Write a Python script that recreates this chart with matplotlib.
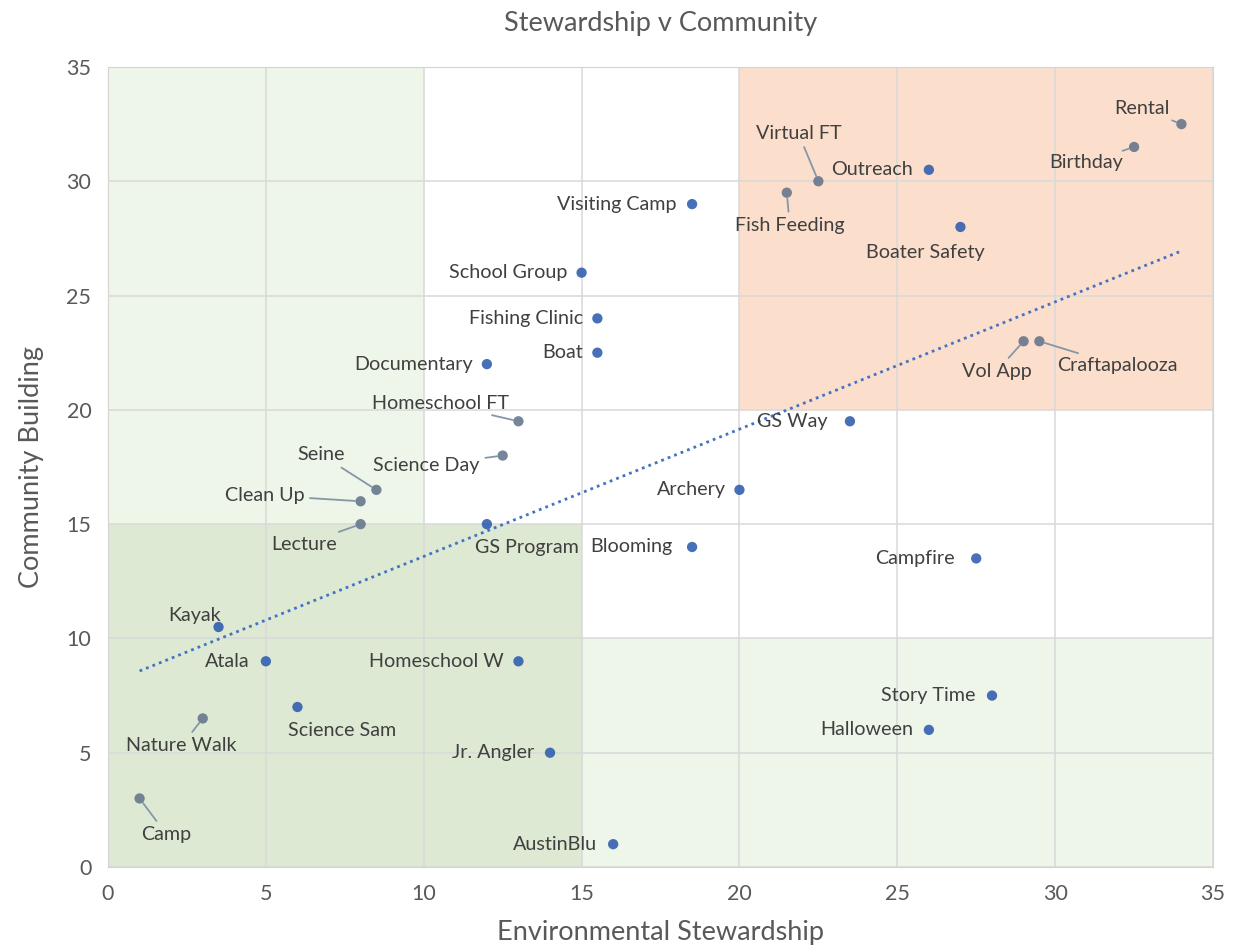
import numpy as np
import matplotlib.pyplot as plt
from matplotlib.patches import Rectangle

# activity scores
names = ['Rental', 'Birthday', 'Outreach', 'Virtual FT', 'Fish Feeding', 'Boater Safety',
         'Vol App', 'Craftapalooza', 'Visiting Camp', 'School Group', 'Fishing Clinic',
         'Boat', 'Documentary', 'Homeschool FT', 'GS Way', 'Science Day', 'Seine',
         'Clean Up', 'Archery', 'Lecture', 'GS Program', 'Blooming', 'Campfire', 'Kayak',
         'Atala', 'Homeschool W', 'Science Sam', 'Nature Walk', 'Story Time', 'Halloween',
         'Jr. Angler', 'Camp', 'AustinBlu']
stewardship = [34, 32.5, 26, 22.5, 21.5, 27, 29, 29.5, 18.5, 15, 15.5, 15.5, 12, 13, 23.5,
               12.5, 8.5, 8, 20, 8, 12, 18.5, 27.5, 3.5, 5, 13, 6, 3, 28, 26, 14, 1, 16]
community = [32.5, 31.5, 30.5, 30, 29.5, 28, 23, 23, 29, 26, 24, 22.5, 22, 19.5, 19.5, 18,
             16.5, 16, 16.5, 15, 15, 14, 13.5, 10.5, 9, 9, 7, 6.5, 7.5, 6, 5, 3, 1]

# label placement (offset in pixels from point, horizontal alignment, leader line)
label_pos = {
    'Rental': (-40, 16, 'center', True),
    'Birthday': (-48, -16, 'center', True),
    'Outreach': (-16, 0, 'right', False),
    'Virtual FT': (-20, 48, 'center', True),
    'Fish Feeding': (3, -33, 'center', True),
    'Boater Safety': (-35, -26, 'center', False),
    'Vol App': (-27, -30, 'center', True),
    'Craftapalooza': (78, -24, 'center', True),
    'Visiting Camp': (-16, 0, 'right', False),
    'School Group': (-14, 0, 'right', False),
    'Fishing Clinic': (-14, 0, 'right', False),
    'Boat': (-14, 0, 'right', False),
    'Documentary': (-14, 0, 'right', False),
    'Homeschool FT': (-78, 18, 'center', True),
    'GS Way': (-22, 0, 'right', False),
    'Science Day': (-76, -10, 'center', True),
    'Seine': (-55, 35, 'center', True),
    'Clean Up': (-96, 6, 'center', True),
    'Archery': (-14, 0, 'right', False),
    'Lecture': (-56, -20, 'center', True),
    'GS Program': (40, -23, 'center', False),
    'Blooming': (-20, 0, 'right', False),
    'Campfire': (-21, 0, 'right', False),
    'Kayak': (-24, 12, 'center', False),
    'Atala': (-16, 0, 'right', False),
    'Homeschool W': (-15, 0, 'right', False),
    'Science Sam': (45, -23, 'center', False),
    'Nature Walk': (-21, -27, 'center', True),
    'Story Time': (-17, 0, 'right', False),
    'Halloween': (-16, 0, 'right', False),
    'Jr. Angler': (-16, 0, 'right', False),
    'Camp': (27, -36, 'center', True),
    'AustinBlu': (-16, 0, 'right', False),
}

fig = plt.figure(figsize=(12.36, 9.51), dpi=100)
ax = fig.add_axes([0.0874, 0.0883, 0.894, 0.8413])
plt.rcParams['font.family'] = ['Lato', 'DejaVu Sans']
font = 'Lato'

# shaded zones
ax.add_patch(Rectangle((0, 0), 10, 35, color='#eef5e9', zorder=0, lw=0))
ax.add_patch(Rectangle((15, 0), 20, 10, color='#eef5e9', zorder=0, lw=0))
ax.add_patch(Rectangle((0, 0), 15, 15, color='#dde9d2', zorder=0, lw=0))
ax.add_patch(Rectangle((20, 20), 15, 15, color='#fbdfcc', zorder=0, lw=0))

x = np.array(stewardship)
y = np.array(community)
leader = np.array([label_pos[n][3] for n in names])
colors = np.where(leader, '#5f7088', '#2857ad')
ax.scatter(x, y, s=55, c=colors, alpha=0.85, zorder=4, edgecolors='none')

# linear trendline
m, b = np.polyfit(x, y, 1)
tx = np.array([x.min(), x.max()])
ax.plot(tx, m * tx + b, color='#4472c4', lw=2, linestyle=(0, (1, 1.5)), zorder=3)

for n, xi, yi in zip(names, stewardship, community):
    dx, dy, ha, line = label_pos[n]
    ap = dict(arrowstyle='-', color='#8497a8', lw=1.3, shrinkA=2, shrinkB=4) if line else None
    ax.annotate(n, (xi, yi), xytext=(dx, dy), textcoords='offset pixels', ha=ha,
                va='center', fontsize=14.2, color='#404040', family=font,
                arrowprops=ap, zorder=5)

ax.set_xlim(0, 35)
ax.set_ylim(0, 35)
ax.set_xticks(range(0, 36, 5))
ax.set_yticks(range(0, 36, 5))
ax.grid(color='#d9d9d9', lw=1.1, zorder=1)
ax.set_axisbelow(True)
for s in ax.spines.values():
    s.set_color('#d4d4d4')
ax.tick_params(length=0, labelsize=15.5, labelcolor='#595959', pad=12)
for lbl in ax.get_xticklabels() + ax.get_yticklabels():
    lbl.set_family(font)

ax.set_xlabel('Environmental Stewardship', fontsize=19.5, color='#595959', family=font, labelpad=12)
ax.set_ylabel('Community Building', fontsize=19.5, color='#595959', family=font, labelpad=16)
ax.set_title('Stewardship v Community', fontsize=19.5, color='#595959', family=font, pad=26)

fig.savefig('out.png', dpi=100)
